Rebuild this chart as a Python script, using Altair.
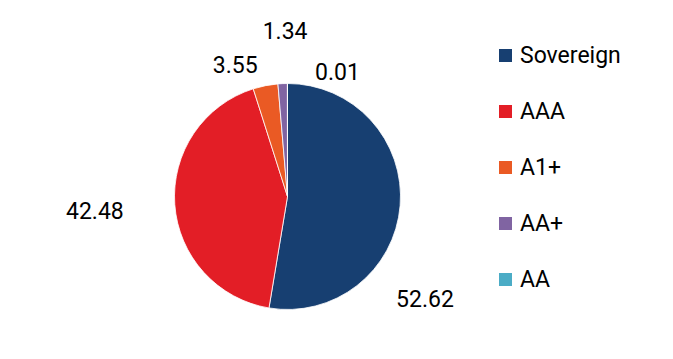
import altair as alt
import pandas as pd

categories = ["Sovereign", "AAA", "A1+", "AA+", "AA"]
values = [52.62, 42.48, 3.55, 1.34, 0.01]
labels = ["52.62", "42.48", "3.55", "1.34", "0.01"]
colors = ["#173f71", "#e31e26", "#ea5a24", "#8064a2", "#4bacc6"]

# label nudges (style) relative to mid-angle placement
nudges = {
    "Sovereign": (-12, 91),
    "AAA": (-43, 5),
    "A1+": (-23, 17),
    "AA+": (4, -15),
    "AA": (50, 26),
}

df = pd.DataFrame({"cat": categories, "value": values, "label": labels,
                   "idx": list(range(len(categories)))})

CX, CY = 279.5, 188.5
R = 113
FONT = "Roboto"

base = alt.Chart(df).transform_stack(
    stack="value", groupby=[], as_=["v0", "v1"], sort=[alt.SortField("idx")]
)

theta_scale = alt.Scale(domain=[0, 100])

arcs = base.mark_arc(outerRadius=R, stroke="white", strokeWidth=0.8).encode(
    theta=alt.Theta("v0:Q", scale=theta_scale),
    theta2="v1:Q",
    color=alt.Color(
        "cat:N",
        scale=alt.Scale(domain=categories, range=colors),
        sort=categories,
        legend=alt.Legend(
            title=None, orient="none", legendX=486, legendY=36,
            symbolType="square", symbolSize=169, symbolStrokeWidth=0,
            labelFont=FONT, labelFontSize=23, labelFontWeight=400,
            labelColor="#000000",
            labelOffset=3, rowPadding=32, padding=0,
        ),
    ),
    x=alt.value(CX),
    y=alt.value(CY),
)

layers = [arcs]
for cat in categories:
    dx, dy = nudges[cat]
    t = base.transform_calculate(mid="(datum.v0 + datum.v1) / 2").transform_filter(
        alt.datum.cat == cat
    ).mark_text(
        radius=150, font=FONT, fontSize=23, fontWeight=400, color="#000000",
        align="center", baseline="middle", dx=dx, dy=dy,
    ).encode(
        theta=alt.Theta("mid:Q", scale=theta_scale),
        text="label:N",
        x=alt.value(CX),
        y=alt.value(CY),
    )
    layers.append(t)

chart = alt.layer(*layers).properties(
    width=657, height=343, padding=0,
    autosize=alt.AutoSizeParams(type="none"),
).configure_view(stroke=None)

chart.save("out.html", embed_options={"renderer": "svg", "actions": False})
